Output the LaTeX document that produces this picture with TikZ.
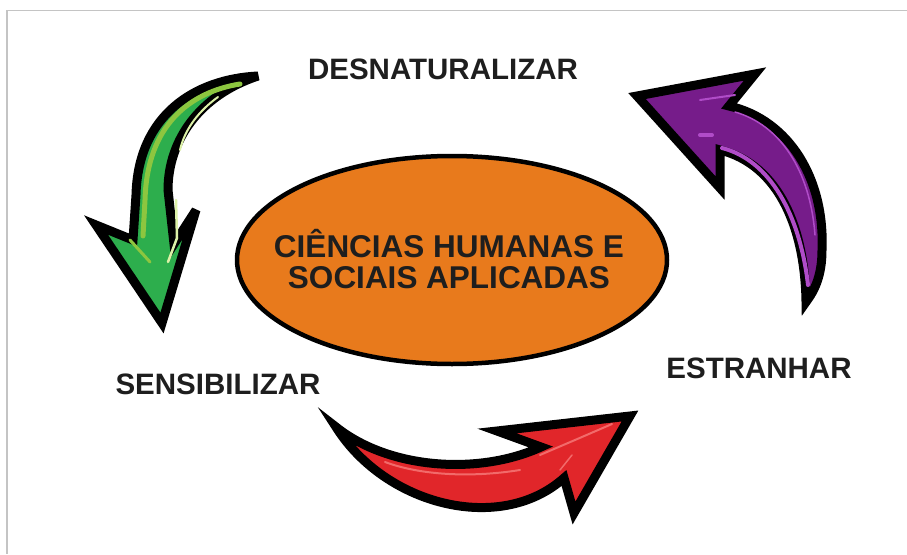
\documentclass[tikz,border=0pt]{standalone}
\usepackage{fontspec}
\setmainfont{Liberation Sans}
\usetikzlibrary{shapes.geometric}
\definecolor{frame}{HTML}{C4C4C4}
\definecolor{orangefill}{HTML}{E87A1C}
\definecolor{textdark}{HTML}{1E1E1E}
\definecolor{greenmain}{HTML}{2DAE4D}
\definecolor{greenlime}{HTML}{8DC63F}
\definecolor{greenpale}{HTML}{DDF2A8}
\definecolor{redmain}{HTML}{E1262A}
\definecolor{redlight}{HTML}{F26A6A}
\definecolor{purplemain}{HTML}{761C8A}
\definecolor{purplelight}{HTML}{B04CC8}
\tikzset{
  arrowbody/.style={draw=black, line width=9pt, line join=miter, miter limit=6},
  hilite/.style={line width=3pt, line cap=round},
  label/.style={font=\fontsize{29.5}{30}\selectfont\bfseries, text=textdark, inner sep=0pt},
  core/.style={ellipse, draw=black, line width=4.5pt, fill=orangefill,
    minimum width=430pt, minimum height=208pt, inner sep=0pt},
  coretext/.style={align=center, inner sep=0pt,
    font=\fontsize{31.5}{31}\selectfont\bfseries, text=textdark}
}
\begin{document}
\begin{tikzpicture}[x=1pt,y=-1pt]
\useasboundingbox (0,0) rectangle (907,554);
\fill[white] (0,0) rectangle (907,554);
% frame
\coordinate (f1) at (907,10.5);
\coordinate (f2) at (7,10.5);
\coordinate (f3) at (7,554);
\draw[frame, line width=1.5pt] (f1) -- (f2) -- (f3);

% central ellipse
\node[core] (core) at (452,260) {};
\node[coretext] (coretxt) at ([xshift=-3pt,yshift=1pt]core.center) {CIÊNCIAS HUMANAS E\\SOCIAIS APLICADAS};

% labels
\node[label] (des) at (443,69) {DESNATURALIZAR};
\node[label] (sen) at (218,384) {SENSIBILIZAR};
\node[label] (est) at (759,368) {ESTRANHAR};

% green arrow (DESNATURALIZAR -> SENSIBILIZAR)
\path[arrowbody, fill=greenmain]
  (258,76) .. controls (195,79) and (138,115) .. (136,195)
  -- (133,240) -- (96,225) -- (162,323) -- (196,210) -- (174,244)
  -- (168,190) .. controls (168,140) and (200,95) .. cycle;
\draw[hilite, greenlime, line width=5pt] (240,84) .. controls (190,92) and (147,125) .. (145,200) -- (143,236);
\draw[hilite, greenlime] (130,240) -- (150,262);
\draw[hilite, greenpale, line width=2.5pt] (176,200) -- (177,238) -- (168,262);
\draw[hilite, greenpale, line width=2pt] (180,150) .. controls (185,128) and (200,110) .. (218,97);

% red arrow (SENSIBILIZAR -> ESTRANHAR)
\path[arrowbody, fill=redmain]
  (336,427) .. controls (385,505) and (500,535) .. (564,478)
  -- (574,513) -- (630,416) -- (497,431) -- (541,447)
  .. controls (480,475) and (390,470) .. cycle;
\draw[hilite, redlight, line width=2pt] (385,462) .. controls (420,475) and (470,478) .. (520,470);
\draw[hilite, redlight, line width=2pt] (540,455) -- (575,440) -- (612,424);
\draw[hilite, redlight, line width=1.5pt] (560,470) -- (572,455);

% purple arrow (ESTRANHAR -> DESNATURALIZAR)
\path[arrowbody, fill=purplemain]
  (637,96) -- (755,74) -- (729,106)
  .. controls (790,120) and (825,180) .. (822,250)
  .. controls (822,275) and (815,290) .. (806,302)
  .. controls (805,230) and (780,165) .. (720,150)
  -- (720,188) -- cycle;
\draw[hilite, purplelight, line width=4pt] (712,135) -- (700,135);
\draw[hilite, purplelight, line width=4pt] (722,148) .. controls (770,160) and (800,215) .. (808,285);
\draw[hilite, purplelight, line width=1.5pt] (735,112) .. controls (780,125) and (810,170) .. (815,235);
\draw[hilite, purplelight, line width=2pt] (700,100) -- (735,95);
\end{tikzpicture}
\end{document}
